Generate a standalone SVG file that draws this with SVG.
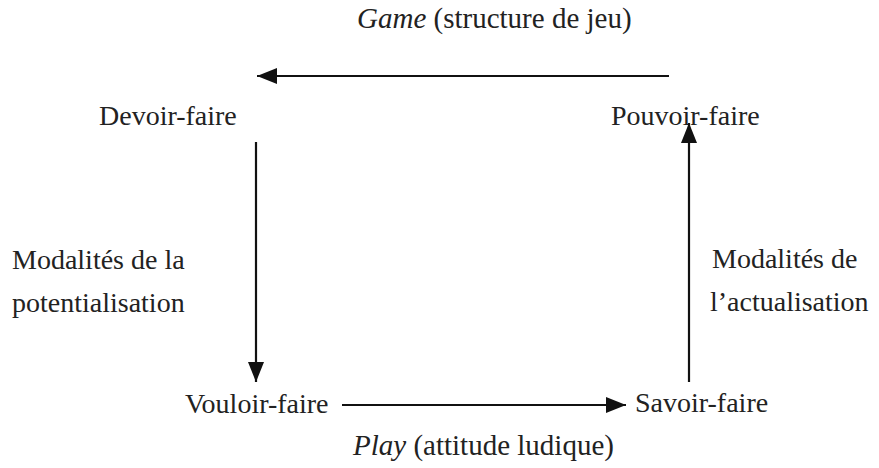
<svg xmlns="http://www.w3.org/2000/svg" width="879" height="468" viewBox="0 0 879 468">
<style>
text{font-size:28px;fill:#222}
.t{font-size:29px}
.i{font-style:italic}
.c{stroke:#111;stroke-width:2.2;fill:none;marker-end:url(#ah)}
</style>
<defs>
<marker id="ah" viewBox="0 0 20 16" refX="20" refY="8" markerWidth="20" markerHeight="16" markerUnits="userSpaceOnUse" orient="auto">
<path d="M0,0 L20,8 L0,16 z" fill="#111"/>
</marker>
</defs>
<rect width="879" height="468" fill="#fff"/>
<g font-family="'Liberation Serif', 'DejaVu Serif', serif">
<g id="labels">
<text class="t" x="357" y="28"><tspan class="i">Game</tspan> (structure de jeu)</text>
<text class="t" x="353" y="455"><tspan class="i">Play</tspan> (attitude ludique)</text>
<text x="12" y="269">Modalités de la</text>
<text x="12" y="312">potentialisation</text>
<text x="712" y="268">Modalités de</text>
<text x="710" y="311">l’actualisation</text>
</g>
<g id="devoir"><text x="99" y="125">Devoir-faire</text></g>
<g id="pouvoir"><text x="611" y="125">Pouvoir-faire</text></g>
<g id="vouloir"><text x="185" y="413">Vouloir-faire</text></g>
<g id="savoir"><text x="635" y="412">Savoir-faire</text></g>
</g>
<g id="connectors">
<line class="c" x1="669" y1="76" x2="257" y2="76"/>
<line class="c" x1="256" y1="142" x2="256" y2="382"/>
<line class="c" x1="342" y1="405" x2="626" y2="405"/>
<line class="c" x1="689" y1="382" x2="689" y2="123"/>
</g>
</svg>
